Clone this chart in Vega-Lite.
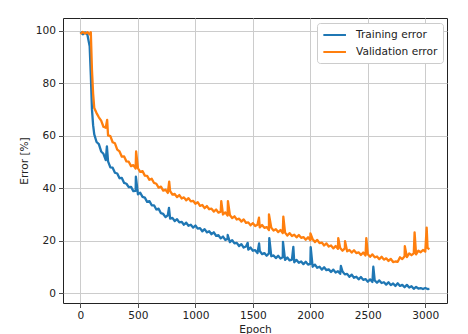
{
  "$schema": "https://vega.github.io/schema/vega-lite/v6.json",
  "width": 384,
  "height": 285,
  "autosize": {"type": "none"},
  "padding": {"left": 63, "top": 18, "right": 21, "bottom": 31},
  "background": "white",
  "config": {
    "font": "DejaVu Sans",
    "view": {"stroke": "#222222", "strokeWidth": 1},
    "axis": {
      "labelFont": "DejaVu Sans",
      "labelFontSize": 10.6,
      "labelColor": "#222222",
      "titleFont": "DejaVu Sans",
      "titleFontSize": 10.6,
      "titleFontWeight": "normal",
      "titleColor": "#222222",
      "domain": false,
      "tickColor": "#222222",
      "tickSize": 4.5,
      "tickWidth": 0.8,
      "gridColor": "#cccccc",
      "gridWidth": 1,
      "labelPadding": 3
    }
  },
  "data": {
    "values": [
      {"e":0,"T":99.5,"V":98.7},{"e":20,"T":98.6,"V":99.5},{"e":40,"T":99.3,"V":98.9},{"e":60,"T":98.5,"V":99.4},
      {"e":80,"T":94,"V":98.6},{"e":90,"T":83,"V":99.4},{"e":100,"T":70,"V":85},{"e":110,"T":64,"V":76},
      {"e":120,"T":60.5,"V":70.5},{"e":140,"T":57.6,"V":68.6},{"e":160,"T":56.8,"V":67},{"e":180,"T":54,"V":65.7},
      {"e":200,"T":53.1,"V":63.4},{"e":220,"T":50.7,"V":63},{"e":240,"T":50.2,"V":60.1},{"e":260,"T":47.9,"V":59.8},
      {"e":280,"T":47.8,"V":57.5},{"e":300,"T":45.9,"V":57.1},{"e":320,"T":45.6,"V":54.7},{"e":340,"T":43.8,"V":54},
      {"e":360,"T":43.9,"V":52},{"e":380,"T":42,"V":52.1},{"e":400,"T":41.7,"V":50.2},{"e":420,"T":40.4,"V":50.1},
      {"e":440,"T":40.5,"V":48.4},{"e":460,"T":38.9,"V":48.8},{"e":480,"T":39,"V":47.5},{"e":500,"T":37.7,"V":47.6},
      {"e":520,"T":38.3,"V":46.2},{"e":540,"T":36.7,"V":46.5},{"e":560,"T":36.4,"V":44.8},{"e":580,"T":34.8,"V":44.7},
      {"e":600,"T":35.1,"V":43.2},{"e":620,"T":33.5,"V":43.6},{"e":640,"T":33.5,"V":42},{"e":660,"T":31.9,"V":41.7},
      {"e":680,"T":32.2,"V":40.2},{"e":700,"T":30.5,"V":40.6},{"e":720,"T":30.2,"V":39.1},{"e":740,"T":29,"V":39.4},
      {"e":760,"T":29.7,"V":38.2},{"e":780,"T":28.4,"V":38.9},{"e":800,"T":28.7,"V":37.6},{"e":820,"T":27.5,"V":37.8},
      {"e":840,"T":28.2,"V":36.6},{"e":860,"T":27,"V":37.4},{"e":880,"T":27.2,"V":36.1},{"e":900,"T":26.1,"V":36.5},
      {"e":920,"T":26.9,"V":35.4},{"e":940,"T":25.7,"V":36.2},{"e":960,"T":26.1,"V":35},{"e":980,"T":25,"V":35.2},
      {"e":1000,"T":25.8,"V":34.1},{"e":1020,"T":24.6,"V":34.7},{"e":1040,"T":24.8,"V":33.3},{"e":1060,"T":23.6,"V":33.6},
      {"e":1080,"T":24.4,"V":32.4},{"e":1100,"T":23.2,"V":33.2},{"e":1120,"T":23.6,"V":32},{"e":1140,"T":22.5,"V":32.2},
      {"e":1160,"T":23.2,"V":31.1},{"e":1180,"T":21.9,"V":31.9},{"e":1200,"T":22.1,"V":30.7},{"e":1220,"T":20.9,"V":31.1},
      {"e":1240,"T":21.6,"V":30},{"e":1260,"T":20.3,"V":30.8},{"e":1280,"T":20.7,"V":29.6},{"e":1300,"T":19.5,"V":29.8},
      {"e":1320,"T":20.2,"V":28.6},{"e":1340,"T":19,"V":29.3},{"e":1360,"T":19.2,"V":28.1},{"e":1380,"T":18,"V":28.4},
      {"e":1400,"T":18.7,"V":27.3},{"e":1420,"T":17.4,"V":28.1},{"e":1440,"T":17.8,"V":26.8},{"e":1460,"T":16.6,"V":27},
      {"e":1480,"T":17.4,"V":25.9},{"e":1500,"T":16.2,"V":26.7},{"e":1520,"T":16.4,"V":25.6},{"e":1540,"T":15.3,"V":26.1},
      {"e":1560,"T":16.1,"V":25.1},{"e":1580,"T":14.9,"V":26},{"e":1600,"T":15.3,"V":24.9},{"e":1620,"T":14.3,"V":25.2},
      {"e":1640,"T":15.2,"V":24.1},{"e":1660,"T":14.1,"V":25},{"e":1680,"T":14.4,"V":23.9},{"e":1700,"T":13.4,"V":24.4},
      {"e":1720,"T":14.3,"V":23.3},{"e":1740,"T":13.2,"V":24.1},{"e":1760,"T":13.7,"V":22.9},{"e":1780,"T":12.7,"V":23.1},
      {"e":1800,"T":13.6,"V":22},{"e":1820,"T":12.5,"V":22.9},{"e":1840,"T":12.8,"V":21.8},{"e":1860,"T":11.8,"V":22.3},
      {"e":1880,"T":12.7,"V":21.3},{"e":1900,"T":11.6,"V":22.2},{"e":1920,"T":12.1,"V":21.1},{"e":1940,"T":11.1,"V":21.4},
      {"e":1960,"T":12,"V":20.4},{"e":1980,"T":10.9,"V":21.3},{"e":2000,"T":11.2,"V":20.2},{"e":2020,"T":10.1,"V":20.6},
      {"e":2040,"T":10.9,"V":19.5},{"e":2060,"T":9.7,"V":20.3},{"e":2080,"T":10.1,"V":19.1},{"e":2100,"T":9,"V":19.3},
      {"e":2120,"T":9.9,"V":18.2},{"e":2140,"T":8.8,"V":19},{"e":2160,"T":9.1,"V":17.8},{"e":2180,"T":8.1,"V":18.2},
      {"e":2200,"T":9,"V":17.1},{"e":2220,"T":7.9,"V":18},{"e":2240,"T":8.4,"V":16.9},{"e":2260,"T":7.4,"V":17.2},
      {"e":2280,"T":8.3,"V":16.2},{"e":2300,"T":7.2,"V":17.1},{"e":2320,"T":7.4,"V":16},{"e":2340,"T":6.3,"V":16.5},
      {"e":2360,"T":7.1,"V":15.5},{"e":2380,"T":5.9,"V":16.4},{"e":2400,"T":6.3,"V":15.3},{"e":2420,"T":5.3,"V":15.6},
      {"e":2440,"T":6.2,"V":14.6},{"e":2460,"T":5.1,"V":15.5},{"e":2480,"T":5.4,"V":14.4},{"e":2500,"T":4.4,"V":14.9},
      {"e":2520,"T":5.3,"V":13.9},{"e":2540,"T":4.3,"V":14.8},{"e":2560,"T":4.9,"V":13.7},{"e":2580,"T":4,"V":14},
      {"e":2600,"T":4.9,"V":13},{"e":2620,"T":3.9,"V":13.9},{"e":2640,"T":4.2,"V":12.8},{"e":2660,"T":3.3,"V":13.3},
      {"e":2680,"T":4.2,"V":12.3},{"e":2700,"T":3.1,"V":13.1},{"e":2720,"T":3.7,"V":11.9},{"e":2740,"T":2.8,"V":12.1},
      {"e":2760,"T":3.8,"V":12},{"e":2780,"T":2.8,"V":13.7},{"e":2800,"T":3.2,"V":13},{"e":2820,"T":2.3,"V":14.1},
      {"e":2840,"T":3.2,"V":13.8},{"e":2860,"T":2.2,"V":15.2},{"e":2880,"T":2.7,"V":14.5},{"e":2900,"T":1.7,"V":15.2},
      {"e":2920,"T":2.4,"V":14.8},{"e":2940,"T":1.8,"V":16.2},{"e":2960,"T":2,"V":15.6},{"e":2980,"T":1.6,"V":16.5},
      {"e":3000,"T":2,"V":15.9},{"e":3020,"T":1.6,"V":17.2},{"e":3036,"T":1.7,"V":16.8},
      {"e":230,"T":55.9},{"e":482,"T":44.4},{"e":770,"T":32.5},{"e":1281,"T":22.2},{"e":1455,"T":19.2},
      {"e":1554,"T":19},{"e":1643,"T":21},{"e":1762,"T":19.6},{"e":1852,"T":17.7},{"e":2003,"T":17.6},
      {"e":2266,"T":10.4},{"e":2548,"T":10.1},
      {"e":232,"V":66},{"e":484,"V":54},{"e":772,"V":42.5},{"e":1225,"V":35.1},{"e":1283,"V":35.1},
      {"e":1553,"V":28.8},{"e":1640,"V":30},{"e":1765,"V":29.2},{"e":2001,"V":22.8},{"e":2243,"V":21},
      {"e":2302,"V":19.8},{"e":2487,"V":21},{"e":2822,"V":17.9},{"e":2907,"V":23.2},{"e":3012,"V":25}
    ]
  },
  "transform": [
    {"fold": ["T", "V"], "as": ["series", "value"]},
    {"filter": "isValid(datum.value)"}
  ],
  "mark": {"type": "line", "strokeWidth": 2.3, "strokeJoin": "round", "clip": true},
  "encoding": {
    "x": {
      "field": "e",
      "type": "quantitative",
      "scale": {"domain": [-152, 3189], "nice": false, "zero": false},
      "axis": {
        "values": [0, 500, 1000, 1500, 2000, 2500, 3000],
        "format": "d",
        "title": "Epoch",
        "titleBaseline": "top",
        "titleY": 21,
        "titleX": 192,
        "titleAlign": "center"
      }
    },
    "y": {
      "field": "value",
      "type": "quantitative",
      "scale": {"domain": [-3.7, 104.8], "nice": false, "zero": false},
      "axis": {
        "values": [0, 20, 40, 60, 80, 100],
        "format": "d",
        "title": "Error [%]",
        "titleAngle": -90,
        "titleX": -39,
        "titleY": 142.5,
        "titleAlign": "center",
        "titleBaseline": "middle"
      }
    },
    "color": {
      "field": "series",
      "type": "nominal",
      "scale": {"domain": ["T", "V"], "range": ["#1f77b4", "#ff7f0e"]},
      "legend": {
        "title": null,
        "orient": "none",
        "legendX": 254,
        "legendY": 5,
        "labelExpr": "datum.label == 'T' ? 'Training error' : 'Validation error'",
        "symbolType": "M-1,0H3",
        "symbolSize": 128,
        "symbolStrokeWidth": 2,
        "labelFont": "DejaVu Sans",
        "labelFontSize": 10.6,
        "labelColor": "#222222",
        "labelOffset": 20,
        "rowPadding": 4,
        "padding": 5,
        "strokeColor": "#cccccc",
        "fillColor": "white",
        "cornerRadius": 3
      }
    }
  }
}
